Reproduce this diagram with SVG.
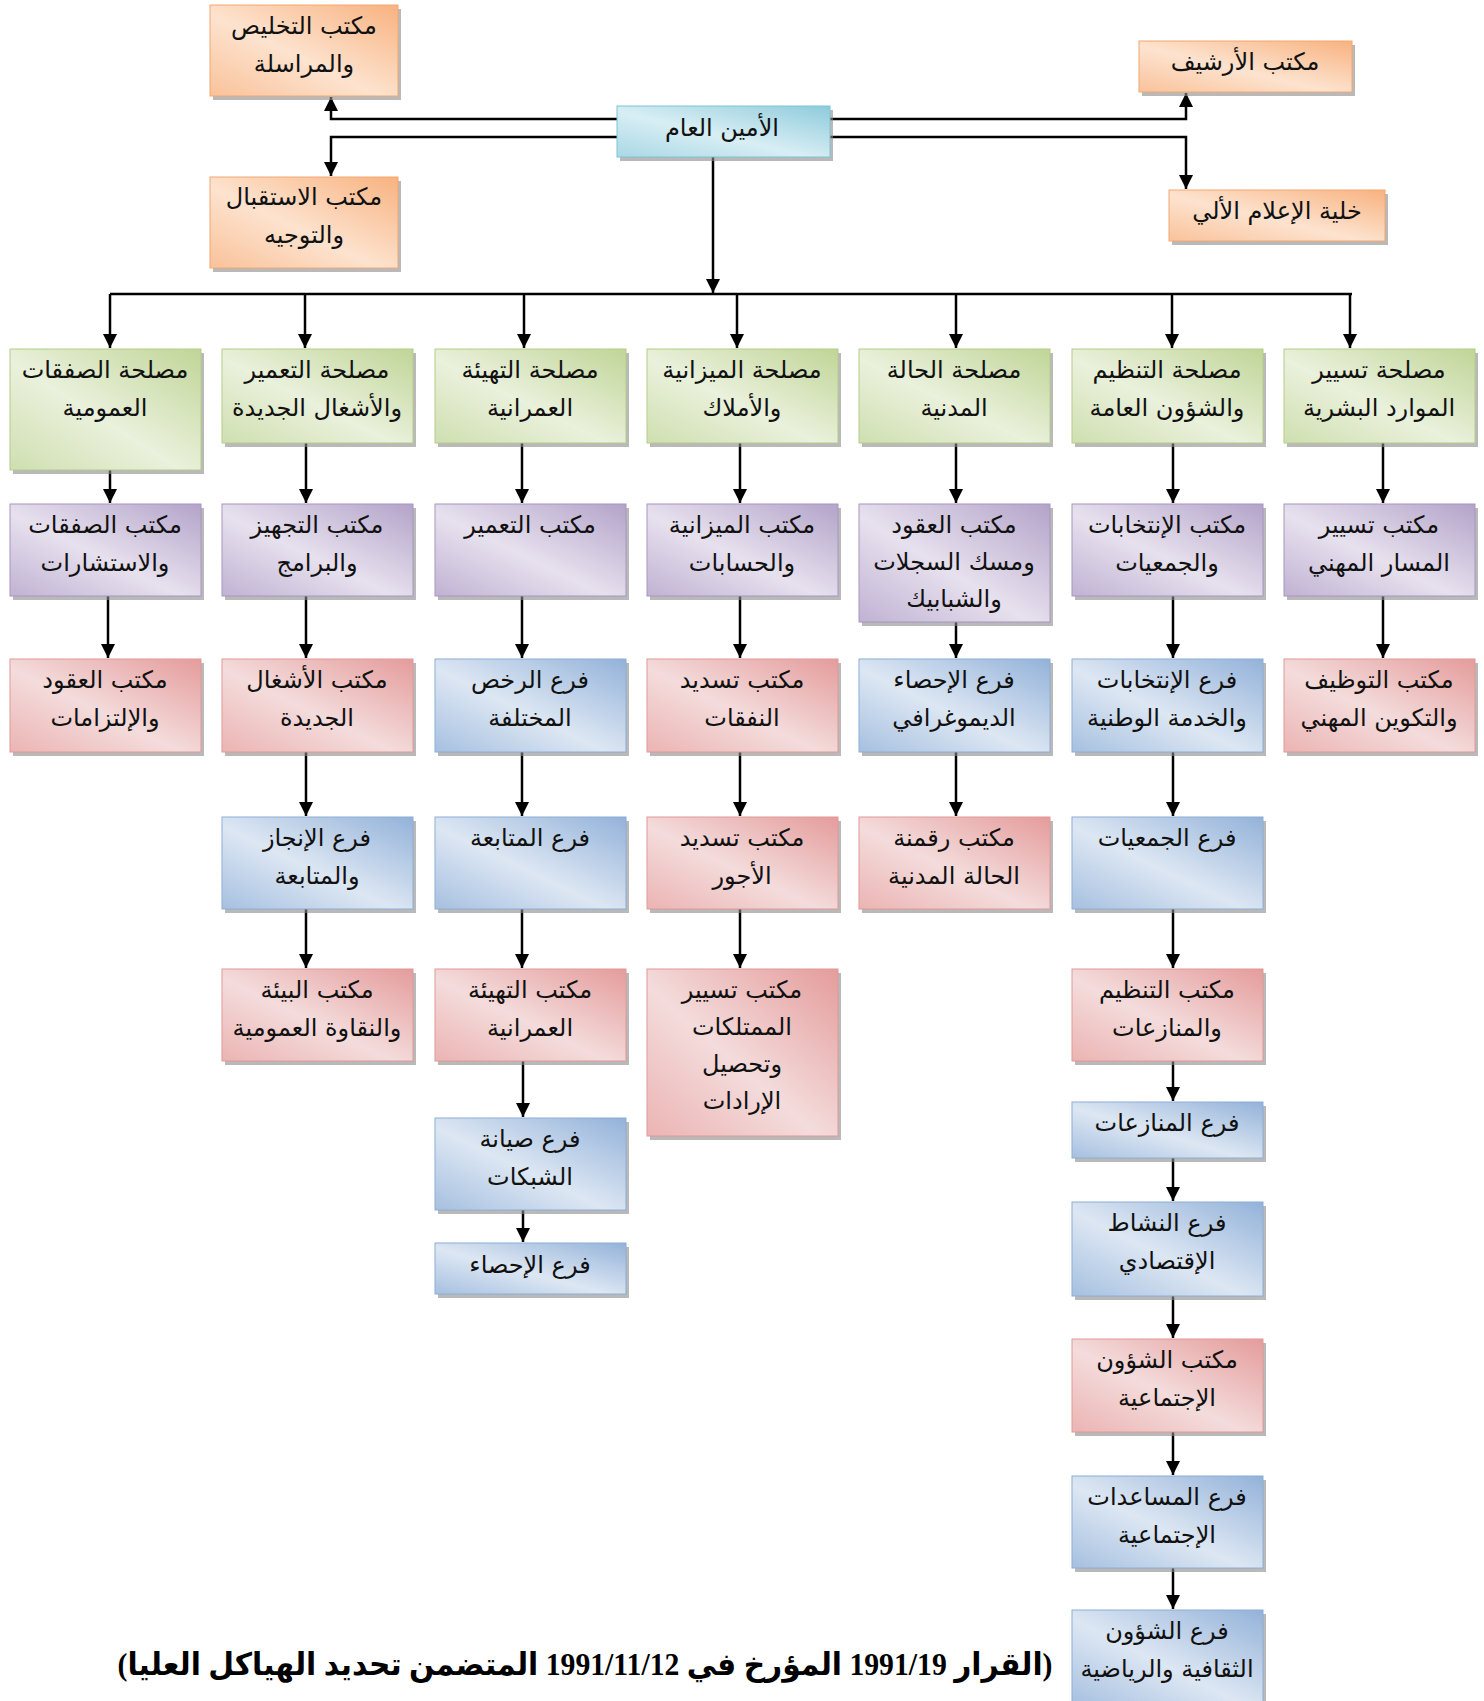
<svg xmlns="http://www.w3.org/2000/svg" width="1484" height="1701" viewBox="0 0 1484 1701">
<defs>
<style>
.t{font-family:'DejaVu Sans','Noto Sans',sans-serif;font-size:24px;fill:#111;text-anchor:middle;direction:rtl}
.sh{fill:#8a8a8a;opacity:.6}
.og{fill:url(#gO);stroke:#f2a873;stroke-width:1}
.cy{fill:url(#gC);stroke:#7fc3d6;stroke-width:1}
.gr{fill:url(#gG);stroke:#b5cc8a;stroke-width:1}
.pu{fill:url(#gP);stroke:#a796c0;stroke-width:1}
.rd{fill:url(#gR);stroke:#df9a98;stroke-width:1}
.bl{fill:url(#gB);stroke:#8eaed6;stroke-width:1}
.c{fill:none;stroke:#000;stroke-width:2.5}
.a{marker-end:url(#ar)}
.fn{font-family:'Liberation Serif','DejaVu Sans',serif;font-size:31px;font-weight:bold;fill:#000;text-anchor:middle;direction:rtl}
</style>
<marker id="ar" viewBox="0 0 10 10" refX="10" refY="5" markerWidth="14" markerHeight="15" markerUnits="userSpaceOnUse" orient="auto"><path d="M0,0 L10,5 L0,10 z" fill="#000"/></marker>
<linearGradient id="gO" x1="1" y1="0" x2="0" y2="1"><stop offset="0" stop-color="#f8b27f"/><stop offset=".55" stop-color="#fde3cf"/><stop offset="1" stop-color="#f9c29a"/></linearGradient>
<linearGradient id="gC" x1="1" y1="0" x2="0" y2="1"><stop offset="0" stop-color="#8ecbdc"/><stop offset=".55" stop-color="#d8eef4"/><stop offset="1" stop-color="#a9d8e5"/></linearGradient>
<linearGradient id="gG" x1="1" y1="0" x2="0" y2="1"><stop offset="0" stop-color="#c0d597"/><stop offset=".55" stop-color="#eaf1dc"/><stop offset="1" stop-color="#cfdfb0"/></linearGradient>
<linearGradient id="gP" x1="1" y1="0" x2="0" y2="1"><stop offset="0" stop-color="#b3a3c9"/><stop offset=".55" stop-color="#e7e1ee"/><stop offset="1" stop-color="#c0b2d3"/></linearGradient>
<linearGradient id="gR" x1="1" y1="0" x2="0" y2="1"><stop offset="0" stop-color="#e49c9b"/><stop offset=".55" stop-color="#f4dcdc"/><stop offset="1" stop-color="#ebb4b3"/></linearGradient>
<linearGradient id="gB" x1="1" y1="0" x2="0" y2="1"><stop offset="0" stop-color="#93b2d9"/><stop offset=".55" stop-color="#dde7f3"/><stop offset="1" stop-color="#a6c0e0"/></linearGradient>
</defs>
<rect width="1484" height="1701" fill="#fff"/>

<g id="connectors">
<path class="c a" d="M617,119 H331 V97"/>
<path class="c a" d="M617,137 H331 V176"/>
<path class="c a" d="M830,119 H1186 V93"/>
<path class="c a" d="M830,137 H1186 V189"/>
<path class="c a" d="M713,157 V293"/>
<path class="c" d="M110,294 H1352"/>
<path class="c a" d="M110,294 V348"/>
<path class="c a" d="M305,294 V348"/>
<path class="c a" d="M524,294 V348"/>
<path class="c a" d="M737,294 V348"/>
<path class="c a" d="M956,294 V348"/>
<path class="c a" d="M1172,294 V348"/>
<path class="c a" d="M1350,294 V348"/>
<path class="c a" d="M110,470 V503"/>
<path class="c a" d="M108,596 V658"/>
<path class="c a" d="M306,443 V503"/>
<path class="c a" d="M306,596 V658"/>
<path class="c a" d="M306,752 V816"/>
<path class="c a" d="M306,909 V968"/>
<path class="c a" d="M522,443 V503"/>
<path class="c a" d="M522,596 V658"/>
<path class="c a" d="M522,752 V816"/>
<path class="c a" d="M522,909 V968"/>
<path class="c a" d="M523,1061 V1117"/>
<path class="c a" d="M523,1210 V1242"/>
<path class="c a" d="M740,443 V503"/>
<path class="c a" d="M740,596 V658"/>
<path class="c a" d="M740,752 V816"/>
<path class="c a" d="M740,909 V968"/>
<path class="c a" d="M956,443 V503"/>
<path class="c a" d="M956,622 V658"/>
<path class="c a" d="M956,752 V816"/>
<path class="c a" d="M1173,443 V503"/>
<path class="c a" d="M1173,596 V658"/>
<path class="c a" d="M1173,752 V816"/>
<path class="c a" d="M1173,909 V968"/>
<path class="c a" d="M1173,1061 V1101"/>
<path class="c a" d="M1173,1158 V1201"/>
<path class="c a" d="M1173,1296 V1338"/>
<path class="c a" d="M1173,1432 V1475"/>
<path class="c a" d="M1173,1568 V1609"/>
<path class="c a" d="M1383,443 V503"/>
<path class="c a" d="M1383,596 V658"/>
</g>

<g id="n_takhlis"><rect class="sh" x="213" y="9" width="188" height="91"/><rect class="og" x="210" y="5" width="188" height="91"/><text class="t" x="304" y="34">مكتب التخليص</text><text class="t" x="304" y="72">والمراسلة</text></g>
<g id="n_istiqbal"><rect class="sh" x="213" y="181" width="188" height="91"/><rect class="og" x="210" y="177" width="188" height="91"/><text class="t" x="304" y="205">مكتب الاستقبال</text><text class="t" x="304" y="243">والتوجيه</text></g>
<g id="n_amin"><rect class="sh" x="620" y="110" width="213" height="51"/><rect class="cy" x="617" y="106" width="213" height="51"/><text class="t" x="722" y="136">الأمين العام</text></g>
<g id="n_archive"><rect class="sh" x="1142" y="45" width="213" height="51"/><rect class="og" x="1139" y="41" width="213" height="51"/><text class="t" x="1245" y="70">مكتب الأرشيف</text></g>
<g id="n_khalia"><rect class="sh" x="1172" y="194" width="216" height="51"/><rect class="og" x="1169" y="190" width="216" height="51"/><text class="t" x="1277" y="219">خلية الإعلام الألي</text></g>

<g id="s1"><rect class="sh" x="13" y="353" width="191" height="121"/><rect class="gr" x="10" y="349" width="191" height="121"/><text class="t" x="105" y="378">مصلحة الصفقات</text><text class="t" x="105" y="416">العمومية</text></g>
<g id="s2"><rect class="sh" x="225" y="353" width="191" height="94"/><rect class="gr" x="222" y="349" width="191" height="94"/><text class="t" x="317" y="378">مصلحة التعمير</text><text class="t" x="317" y="416">والأشغال الجديدة</text></g>
<g id="s3"><rect class="sh" x="438" y="353" width="191" height="94"/><rect class="gr" x="435" y="349" width="191" height="94"/><text class="t" x="530" y="378">مصلحة التهيئة</text><text class="t" x="530" y="416">العمرانية</text></g>
<g id="s4"><rect class="sh" x="650" y="353" width="191" height="94"/><rect class="gr" x="647" y="349" width="191" height="94"/><text class="t" x="742" y="378">مصلحة الميزانية</text><text class="t" x="742" y="416">والأملاك</text></g>
<g id="s5"><rect class="sh" x="862" y="353" width="191" height="94"/><rect class="gr" x="859" y="349" width="191" height="94"/><text class="t" x="954" y="378">مصلحة الحالة</text><text class="t" x="954" y="416">المدنية</text></g>
<g id="s6"><rect class="sh" x="1075" y="353" width="191" height="94"/><rect class="gr" x="1072" y="349" width="191" height="94"/><text class="t" x="1167" y="378">مصلحة التنظيم</text><text class="t" x="1167" y="416">والشؤون العامة</text></g>
<g id="s7"><rect class="sh" x="1287" y="353" width="191" height="94"/><rect class="gr" x="1284" y="349" width="191" height="94"/><text class="t" x="1379" y="378">مصلحة تسيير</text><text class="t" x="1379" y="416">الموارد البشرية</text></g>

<g id="p1"><rect class="sh" x="13" y="508" width="191" height="92"/><rect class="pu" x="10" y="504" width="191" height="92"/><text class="t" x="105" y="533">مكتب الصفقات</text><text class="t" x="105" y="571">والاستشارات</text></g>
<g id="p2"><rect class="sh" x="225" y="508" width="191" height="92"/><rect class="pu" x="222" y="504" width="191" height="92"/><text class="t" x="317" y="533">مكتب التجهيز</text><text class="t" x="317" y="571">والبرامج</text></g>
<g id="p3"><rect class="sh" x="438" y="508" width="191" height="92"/><rect class="pu" x="435" y="504" width="191" height="92"/><text class="t" x="530" y="533">مكتب التعمير</text></g>
<g id="p4"><rect class="sh" x="650" y="508" width="191" height="92"/><rect class="pu" x="647" y="504" width="191" height="92"/><text class="t" x="742" y="533">مكتب الميزانية</text><text class="t" x="742" y="571">والحسابات</text></g>
<g id="p5"><rect class="sh" x="862" y="508" width="191" height="118"/><rect class="pu" x="859" y="504" width="191" height="118"/><text class="t" x="954" y="533">مكتب العقود</text><text class="t" x="954" y="570">ومسك السجلات</text><text class="t" x="954" y="607">والشبابيك</text></g>
<g id="p6"><rect class="sh" x="1075" y="508" width="191" height="92"/><rect class="pu" x="1072" y="504" width="191" height="92"/><text class="t" x="1167" y="533">مكتب الإنتخابات</text><text class="t" x="1167" y="571">والجمعيات</text></g>
<g id="p7"><rect class="sh" x="1287" y="508" width="191" height="92"/><rect class="pu" x="1284" y="504" width="191" height="92"/><text class="t" x="1379" y="533">مكتب تسيير</text><text class="t" x="1379" y="571">المسار المهني</text></g>

<g id="r3c1"><rect class="sh" x="13" y="663" width="191" height="93"/><rect class="rd" x="10" y="659" width="191" height="93"/><text class="t" x="105" y="688">مكتب العقود</text><text class="t" x="105" y="726">والإلتزامات</text></g>
<g id="r3c2"><rect class="sh" x="225" y="663" width="191" height="93"/><rect class="rd" x="222" y="659" width="191" height="93"/><text class="t" x="317" y="688">مكتب الأشغال</text><text class="t" x="317" y="726">الجديدة</text></g>
<g id="r3c3"><rect class="sh" x="438" y="663" width="191" height="93"/><rect class="bl" x="435" y="659" width="191" height="93"/><text class="t" x="530" y="688">فرع الرخص</text><text class="t" x="530" y="726">المختلفة</text></g>
<g id="r3c4"><rect class="sh" x="650" y="663" width="191" height="93"/><rect class="rd" x="647" y="659" width="191" height="93"/><text class="t" x="742" y="688">مكتب تسديد</text><text class="t" x="742" y="726">النفقات</text></g>
<g id="r3c5"><rect class="sh" x="862" y="663" width="191" height="93"/><rect class="bl" x="859" y="659" width="191" height="93"/><text class="t" x="954" y="688">فرع الإحصاء</text><text class="t" x="954" y="726">الديموغرافي</text></g>
<g id="r3c6"><rect class="sh" x="1075" y="663" width="191" height="93"/><rect class="bl" x="1072" y="659" width="191" height="93"/><text class="t" x="1167" y="688">فرع الإنتخابات</text><text class="t" x="1167" y="726">والخدمة الوطنية</text></g>
<g id="r3c7"><rect class="sh" x="1287" y="663" width="191" height="93"/><rect class="rd" x="1284" y="659" width="191" height="93"/><text class="t" x="1379" y="688">مكتب التوظيف</text><text class="t" x="1379" y="726">والتكوين المهني</text></g>

<g id="r4c2"><rect class="sh" x="225" y="821" width="191" height="92"/><rect class="bl" x="222" y="817" width="191" height="92"/><text class="t" x="317" y="846">فرع الإنجاز</text><text class="t" x="317" y="884">والمتابعة</text></g>
<g id="r4c3"><rect class="sh" x="438" y="821" width="191" height="92"/><rect class="bl" x="435" y="817" width="191" height="92"/><text class="t" x="530" y="846">فرع المتابعة</text></g>
<g id="r4c4"><rect class="sh" x="650" y="821" width="191" height="92"/><rect class="rd" x="647" y="817" width="191" height="92"/><text class="t" x="742" y="846">مكتب تسديد</text><text class="t" x="742" y="884">الأجور</text></g>
<g id="r4c5"><rect class="sh" x="862" y="821" width="191" height="92"/><rect class="rd" x="859" y="817" width="191" height="92"/><text class="t" x="954" y="846">مكتب رقمنة</text><text class="t" x="954" y="884">الحالة المدنية</text></g>
<g id="r4c6"><rect class="sh" x="1075" y="821" width="191" height="92"/><rect class="bl" x="1072" y="817" width="191" height="92"/><text class="t" x="1167" y="846">فرع الجمعيات</text></g>

<g id="r5c2"><rect class="sh" x="225" y="973" width="191" height="92"/><rect class="rd" x="222" y="969" width="191" height="92"/><text class="t" x="317" y="998">مكتب البيئة</text><text class="t" x="317" y="1036">والنقاوة العمومية</text></g>
<g id="r5c3"><rect class="sh" x="438" y="973" width="191" height="92"/><rect class="rd" x="435" y="969" width="191" height="92"/><text class="t" x="530" y="998">مكتب التهيئة</text><text class="t" x="530" y="1036">العمرانية</text></g>
<g id="r5c4"><rect class="sh" x="650" y="973" width="191" height="167"/><rect class="rd" x="647" y="969" width="191" height="167"/><text class="t" x="742" y="998">مكتب تسيير</text><text class="t" x="742" y="1035">الممتلكات</text><text class="t" x="742" y="1072">وتحصيل</text><text class="t" x="742" y="1109">الإرادات</text></g>
<g id="r5c6"><rect class="sh" x="1075" y="973" width="191" height="92"/><rect class="rd" x="1072" y="969" width="191" height="92"/><text class="t" x="1167" y="998">مكتب التنظيم</text><text class="t" x="1167" y="1036">والمنازعات</text></g>

<g id="r6c3"><rect class="sh" x="438" y="1122" width="191" height="92"/><rect class="bl" x="435" y="1118" width="191" height="92"/><text class="t" x="530" y="1147">فرع صيانة</text><text class="t" x="530" y="1185">الشبكات</text></g>
<g id="r7c3"><rect class="sh" x="438" y="1247" width="191" height="51"/><rect class="bl" x="435" y="1243" width="191" height="51"/><text class="t" x="530" y="1273">فرع الإحصاء</text></g>

<g id="r6c6"><rect class="sh" x="1075" y="1106" width="191" height="56"/><rect class="bl" x="1072" y="1102" width="191" height="56"/><text class="t" x="1167" y="1131">فرع المنازعات</text></g>
<g id="r7c6"><rect class="sh" x="1075" y="1206" width="191" height="94"/><rect class="bl" x="1072" y="1202" width="191" height="94"/><text class="t" x="1167" y="1231">فرع النشاط</text><text class="t" x="1167" y="1269">الإقتصادي</text></g>
<g id="r8c6"><rect class="sh" x="1075" y="1343" width="191" height="93"/><rect class="rd" x="1072" y="1339" width="191" height="93"/><text class="t" x="1167" y="1368">مكتب الشؤون</text><text class="t" x="1167" y="1406">الإجتماعية</text></g>
<g id="r9c6"><rect class="sh" x="1075" y="1480" width="191" height="92"/><rect class="bl" x="1072" y="1476" width="191" height="92"/><text class="t" x="1167" y="1505">فرع المساعدات</text><text class="t" x="1167" y="1543">الإجتماعية</text></g>
<g id="r10c6"><rect class="sh" x="1075" y="1614" width="191" height="95"/><rect class="bl" x="1072" y="1610" width="191" height="95"/><text class="t" x="1167" y="1639">فرع الشؤون</text><text class="t" x="1167" y="1677">الثقافية والرياضية</text></g>

<text class="fn" x="585" y="1675" textLength="935" lengthAdjust="spacingAndGlyphs">(القرار 1991/19 المؤرخ في 1991/11/12 المتضمن تحديد الهياكل العليا)</text>
</svg>
